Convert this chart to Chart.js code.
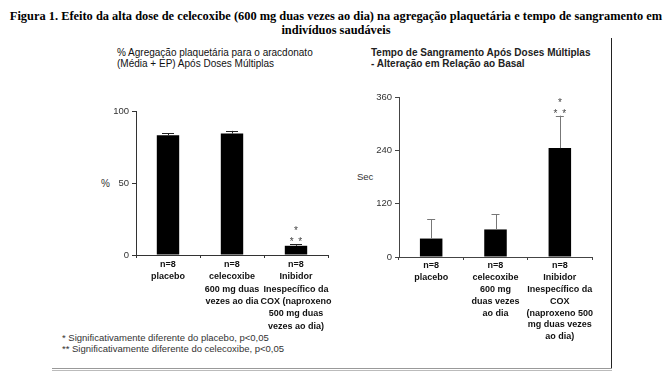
<!DOCTYPE html>
<html><head><meta charset="utf-8">
<script src="https://cdn.jsdelivr.net/npm/chart.js@4"></script>
<style>
body{margin:0;background:#fff;width:670px;height:380px;position:relative;overflow:hidden;font-family:"Liberation Sans",Arial,sans-serif;}
.abs{position:absolute;white-space:nowrap;}
#title{left:0;top:9px;width:672px;text-align:center;font-family:"Liberation Serif","Times New Roman",serif;font-weight:bold;font-size:12.4px;line-height:14px;color:#000;}
#subL{left:117px;top:48px;font-size:10px;line-height:10.5px;color:#111;}
#subR{left:371px;top:48px;font-size:10px;line-height:10.5px;color:#222;font-weight:bold;}
#yL{left:101px;top:178px;font-size:10px;color:#333;}
#yR{left:357px;top:171px;font-size:9.5px;color:#333;}
#foot{left:62px;top:333px;font-size:9.5px;line-height:10.5px;color:#333;}
#vline{left:611px;top:38px;width:1px;height:331px;background:#222;}
#hline{left:52px;top:368px;width:560px;height:1px;border-top:1px solid #999;border-bottom:1px solid #bbb;}
canvas{position:absolute;}
</style></head><body>
<div id="title" class="abs">Figura 1. Efeito da alta dose de celecoxibe (600 mg duas vezes ao dia) na agregação plaquetária e tempo de sangramento em<br>indivíduos saudáveis</div>
<div id="subL" class="abs">% Agregação plaquetária para o aracdonato<br>(Média + EP) Após Doses Múltiplas</div>
<div id="subR" class="abs">Tempo de Sangramento Após Doses Múltiplas<br>- Alteração em Relação ao Basal</div>
<div id="yL" class="abs">%</div>
<div id="yR" class="abs">Sec</div>
<div id="foot" class="abs">* Significativamente diferente do placebo, p&lt;0,05<br>** Significativamente diferente do celecoxibe, p&lt;0,05</div>
<div id="vline" class="abs"></div>
<div id="hline" class="abs"></div>
<canvas id="cL" width="250" height="250" style="left:90px;top:90px;width:250px;height:250px"></canvas>
<canvas id="cR" width="260" height="265" style="left:350px;top:80px;width:260px;height:265px"></canvas>
<script>
// ---- data ----
const categoriesLeft = [
  ["n=8","placebo"],
  ["n=8","celecoxibe","600 mg duas","vezes ao dia"],
  ["n=8","Inibidor","Inespecífico da","COX (naproxeno","500 mg duas","vezes ao dia)"]
];
const categoriesRight = [
  ["n=8","placebo"],
  ["n=8","celecoxibe","600 mg","duas vezes","ao dia"],
  ["n=8","Inibidor","Inespecífico da","COX","(naproxeno 500","mg duas vezes","ao dia)"]
];
const aggregationMean = [83.2, 84.4, 6.4];
const aggregationErr  = [1.4, 1.8, 0.9];
const aggregationSig  = [[], [], ["* *","*"]];
const bleedingMean = [41.5, 62, 245];
const bleedingErr  = [43, 34.5, 73];
const bleedingSig  = [[], [], ["* *","*"]];
const yTicksLeft  = [0, 50, 100];
const yTicksRight = [0, 120, 240, 360];

// ---- plugins ----
const errorBarPlugin = {
  id: 'errorBars',
  afterDatasetsDraw(chart, args, opts) {
    const ctx = chart.ctx;
    const meta = chart.getDatasetMeta(0);
    const ys = chart.scales.y;
    const data = chart.data.datasets[0].data;
    ctx.save();
    meta.data.forEach((bar, i) => {
      const top = ys.getPixelForValue(data[i] + opts.errors[i]);
      const base = ys.getPixelForValue(data[i]);
      ctx.strokeStyle = opts.color;
      ctx.lineWidth = 1;
      ctx.beginPath();
      ctx.moveTo(Math.round(bar.x) + 0.5, base);
      ctx.lineTo(Math.round(bar.x) + 0.5, top);
      ctx.moveTo(bar.x - opts.cap / 2, Math.round(top) + 0.5);
      ctx.lineTo(bar.x + opts.cap / 2, Math.round(top) + 0.5);
      ctx.stroke();
      const marks = opts.marks[i] || [];
      ctx.fillStyle = '#444';
      ctx.font = '10px "Liberation Sans", Arial, sans-serif';
      ctx.textAlign = 'center';
      ctx.textBaseline = 'alphabetic';
      marks.forEach((m, k) => {
        const baseline = top + 1 - k * 11;
        const chars = m.split('');
        const step = 4.3;
        chars.forEach((c, j) => {
          if (c !== ' ') ctx.fillText(c, bar.x + (j - (chars.length - 1) / 2) * step, baseline);
        });
      });
    });
    ctx.restore();
  }
};

function makeChart(id, labels, values, errors, marks, ticks, cfg) {
  return new Chart(document.getElementById(id), {
    type: 'bar',
    data: { labels: labels, datasets: [{ data: values, backgroundColor: '#000', borderWidth: 0,
      barPercentage: 0.35, categoryPercentage: 1.0 }] },
    options: {
      responsive: false, animation: false, devicePixelRatio: 1,
      layout: { padding: { top: cfg.padTop, right: cfg.padRight, left: 0, bottom: 0 } },
      plugins: { legend: { display: false }, tooltip: { enabled: false },
        errorBars: { errors: errors, color: cfg.errColor, cap: cfg.cap, marks: marks } },
      scales: {
        x: {
          offset: true,
          grid: { offset: true, drawOnChartArea: false, drawTicks: true, tickLength: 3, color: cfg.axisColor },
          border: { display: true, color: cfg.axisColor, width: 1 },
          ticks: { color: '#111', font: { family: '"Liberation Sans", Arial, sans-serif', size: 9, weight: 'bold', lineHeight: cfg.lh },
            maxRotation: 0, minRotation: 0, autoSkip: false, padding: 0 },
          afterFit: s => { s.height = cfg.xHeight; }
        },
        y: {
          min: ticks[0], max: ticks[ticks.length - 1],
          afterBuildTicks: s => { s.ticks = ticks.map(v => ({ value: v })); },
          grid: { drawOnChartArea: false, drawTicks: true, tickLength: 4, color: cfg.axisColor },
          border: { display: true, color: cfg.axisColor, width: 1 },
          ticks: { color: '#333', font: { family: '"Liberation Sans", Arial, sans-serif', size: 9.5 }, padding: 3 },
          afterFit: s => { s.width = cfg.yWidth; }
        }
      }
    },
    plugins: [errorBarPlugin]
  });
}

makeChart('cL', categoriesLeft, aggregationMean, aggregationErr, aggregationSig, yTicksLeft,
  { padTop: 21, padRight: 12, xHeight: 85, yWidth: 46, errColor: '#222', cap: 12, axisColor: '#333', lh: 1.38 });
makeChart('cR', categoriesRight, bleedingMean, bleedingErr, bleedingSig, yTicksRight,
  { padTop: 17, padRight: 18, xHeight: 88, yWidth: 49, errColor: '#777', cap: 8, axisColor: '#444', lh: 1.31 });
</script>
</body></html>
